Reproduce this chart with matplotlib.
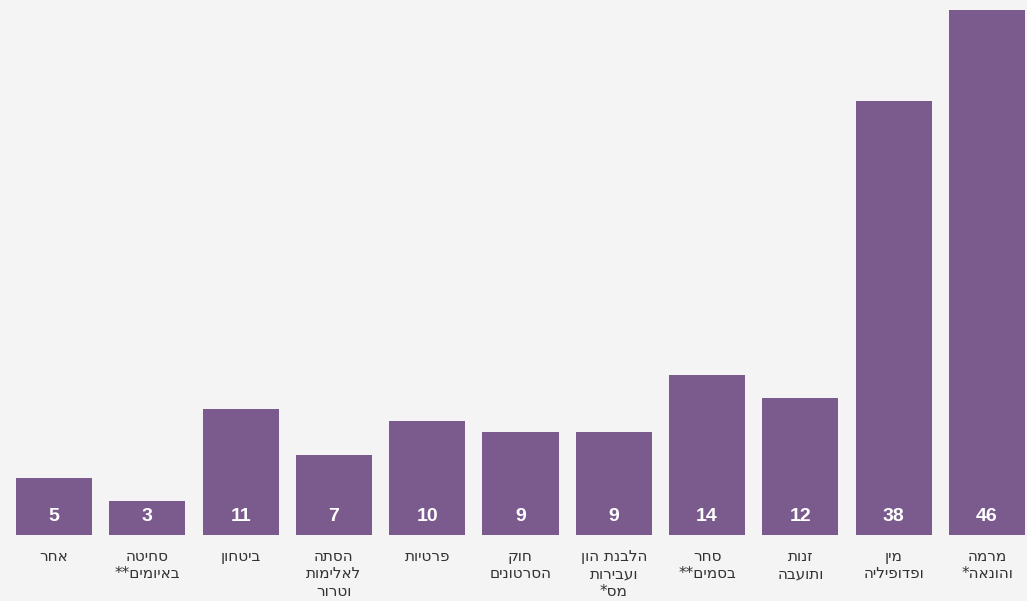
import numpy as np
import matplotlib.pyplot as plt

# נתונים - סדר משמאל לימין כמו בתרשים
categories = ["אחר", "סחיטה\nבאיומים**", "ביטחון", "הסתה\nלאלימות\nוטרור", "פרטיות",
              "חוק\nהסרטונים", "הלבנת הון\nועבירות\nמס*", "סחר\nבסמים**", "זנות\nותועבה",
              "מין\nופדופיליה", "מרמה\nוהונאה*"]
values = [5, 3, 11, 7, 10, 9, 9, 14, 12, 38, 46]

def visual(s):
    # matplotlib has no bidi support, so flip each line for display
    return "\n".join(line[::-1] for line in s.split("\n"))

bg = '#f4f4f4'
bar_color = '#7b5b8e'

fig = plt.figure(figsize=(10.27, 6.01), dpi=100, facecolor=bg)
ax = fig.add_axes([7.35 / 1027, 66 / 601, 1026.3 / 1027, 525 / 601])
ax.set_facecolor(bg)

x = np.arange(len(values))
ax.bar(x, values, width=0.815, color=bar_color, zorder=2)

for i, v in zip(x, values):
    ax.annotate(str(v), (i, 0), xytext=(0, 13), textcoords='offset points',
                ha='center', va='center', color='white', fontsize=14,
                fontweight='bold', family='Liberation Sans')

ax.set_xlim(-0.5, len(values) - 0.5)
ax.set_ylim(0, max(values))
ax.set_xticks(x)
ax.set_xticklabels([visual(c) for c in categories], fontsize=11, color='#333333',
                   family='DejaVu Sans', linespacing=1.2, va='top')
ax.tick_params(axis='x', length=0, pad=10)
ax.set_yticks([])
for s in ax.spines.values():
    s.set_visible(False)

fig.savefig('out.png', dpi=100, facecolor=bg)
